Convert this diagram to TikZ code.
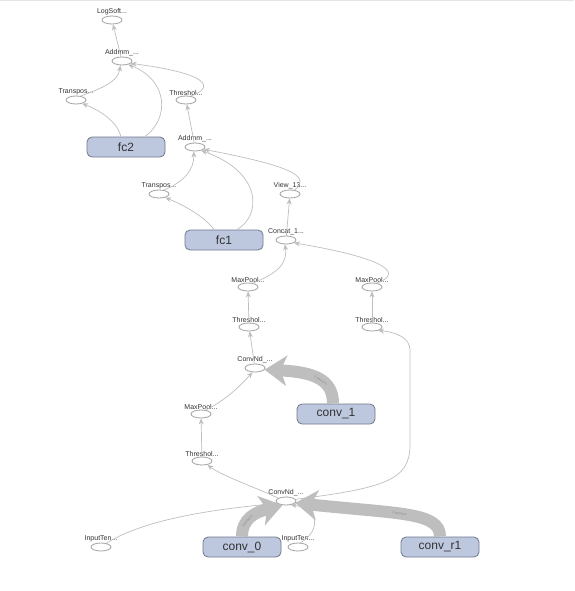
\documentclass[tikz,border=0pt]{standalone}
\usepackage{fontspec}
\setmainfont{Liberation Sans}
\usepackage{xcolor}
\usetikzlibrary{arrows.meta,shapes.geometric}
\definecolor{boxblau}{RGB}{189,199,222}
\definecolor{boxrand}{RGB}{112,120,140}
\definecolor{kante}{RGB}{190,190,190}
\definecolor{ovalrand}{RGB}{160,160,160}

\begin{document}
\begin{tikzpicture}[x=1pt, y=-1pt,
    op/.style={draw=ovalrand, fill=white, ellipse, minimum width=20pt, minimum height=8pt, inner sep=0pt, line width=0.8pt,
      label={[lbl]above:#1}},
    lbl/.style={font=\fontsize{7}{8}\selectfont, text=black!80, inner sep=0.3pt, label distance=0pt},
    kasten/.style={draw=boxrand, fill=boxblau, rounded corners=5pt, minimum width=78pt, minimum height=20pt,
      line width=0.8pt, font=\fontsize{12}{13}\selectfont, text=black!80},
    kant/.style={draw=kante, line width=0.7pt, -{Stealth[length=6pt,width=5pt,fill=kante]}},
    dick/.style={draw=kante, line width=12pt, -{Stealth[length=22pt,width=30pt,inset=6pt,fill=kante]}},
    tens/.style={font=\fontsize{3.5}{4}\selectfont, text=black!45, sloped}]
    %Bildbereich
    \useasboundingbox (0,0) rectangle (574,591);
    \fill[gray!20] (0,0) rectangle (574,1.5);
    %Knoten oben
    \node[op=LogSoft...]   (logsoft) at (112,20)  {};
    \node[op=Addmm\_...]   (addmmA)  at (122,61)  {};
    \node[op=Transpos...]  (transA)  at (76,100)  {};
    \node[op=Threshol...]  (threshA) at (186,100) {};
    \node[kasten]          (fc2)     at (126,147) {fc2};
    \node[op=Addmm\_...]   (addmmB)  at (195,147) {};
    \node[op=Transpos...]  (transB)  at (159,194) {};
    \node[op=View\_13...]  (view)    at (290,194) {};
    \node[kasten]          (fc1)     at (224,240) {fc1};
    \node[op=Concat\_1...] (concat)  at (286,240) {};
    %Knoten Mitte
    \node[op=MaxPool...]   (maxL)    at (248,287) {};
    \node[op=MaxPool...]   (maxR)    at (372,287) {};
    \node[op=Threshol...]  (threshL) at (249,327) {};
    \node[op=Threshol...]  (threshR) at (372,327) {};
    \node[op=ConvNd\_...]  (convM)   at (255,368) {};
    \node[kasten]          (conv1)   at (336,414) {conv\_1};
    \node[op=MaxPool...]   (maxU)    at (201,414) {};
    \node[op=Threshol...]  (threshU) at (202,461) {};
    %Knoten unten
    \node[op=ConvNd\_...]  (convU)   at (286,501) {};
    \node[op=InputTen...]  (inL)     at (101,547) {};
    \node[kasten]          (conv0)   at (242,547) {conv\_0};
    \node[op=InputTen...]  (inR)     at (298,547) {};
    \node[kasten]          (convr1)  at (440,547) {conv\_r1};
    %Kanten oben
    \draw[kant] (addmmA) -- (logsoft);
    \draw[kant] (transA.40) .. controls (102,88) and (118,82) .. (addmmA.-110);
    \draw[kant] ([xshift=-5pt]fc2.north) .. controls (118,124) and (104,112) .. (transA.-30);
    \draw[kant] ([xshift=19pt]fc2.north) .. controls (170,118) and (168,80) .. (addmmA.-30);
    \draw[kant] (threshA.40) .. controls (214,88) and (212,74) .. (addmmA.-15);
    \draw[kant] (addmmB) -- (threshA);
    \draw[kant] (transB.40) .. controls (184,182) and (194,170) .. (addmmB.-105);
    \draw[kant] ([xshift=-10pt]fc1.north) .. controls (206,218) and (186,206) .. (transB.-30);
    \draw[kant] ([xshift=13pt]fc1.north) .. controls (262,215) and (262,172) .. (addmmB.-30);
    \draw[kant] (view.40) .. controls (308,178) and (302,168) .. (addmmB.-15);
    \draw[kant] (concat) -- (view);
    %Kanten Mitte
    \draw[kant] (maxL.40) .. controls (276,274) and (288,264) .. (concat.-105);
    \draw[kant] (maxR.40) .. controls (400,275) and (396,260) .. (concat.-20);
    \draw[kant] (threshL) -- (maxL);
    \draw[kant] (threshR) -- (maxR);
    \draw[kant] (convM) -- (threshL);
    \draw[kant] (maxU.40) .. controls (226,400) and (240,386) .. (convM.-120);
    \draw[kant] (threshU) -- (maxU);
    \draw[dick] ([xshift=-3pt]conv1.north) .. controls (333,380) and (315,372) .. node[tens, pos=0.45] {2 tensors} (convM.-10);
    %Kanten unten
    \draw[kant] (convU.160) .. controls (262,490) and (222,476) .. (threshU.-35);
    \draw[kant] (inL.35) .. controls (150,516) and (230,508) .. (convU.-165);
    \draw[dick] (conv0.north) .. controls (242,518) and (256,512) .. node[tens, pos=0.35] {2 tensors} (convU.-130);
    \draw[kant] (inR.60) .. controls (322,530) and (318,508) .. (convU.-40);
    \draw[dick] (convr1.north) .. controls (440,512) and (400,514) .. node[tens, pos=0.55] {2 tensors} (convU.-12);
    \draw[kant] (convU.10) .. controls (385,488) and (410,480) .. (410,445)
      -- (410,350) .. controls (410,338) and (396,332) .. (threshR.-30);
\end{tikzpicture}
\end{document}
